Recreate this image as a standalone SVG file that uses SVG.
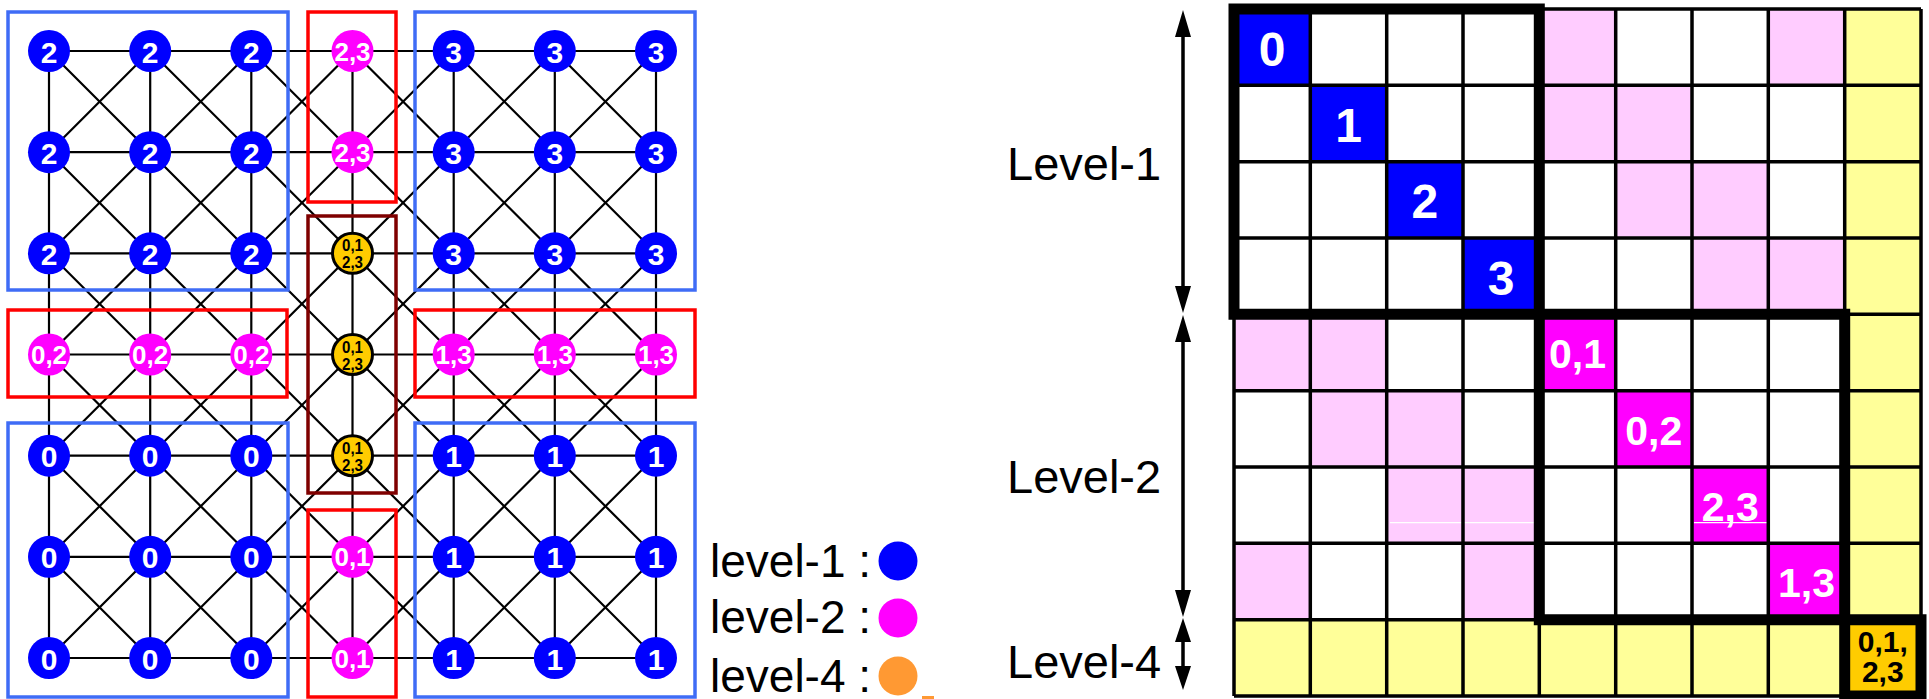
<svg xmlns="http://www.w3.org/2000/svg" width="1929" height="699" viewBox="0 0 1929 699">
  <style>
    .edge{fill:none;stroke:#000;stroke-width:2.2}
    .bbox{fill:none;stroke:#3F6CF6;stroke-width:3.5}
    .rbox{fill:none;stroke:#FF0000;stroke-width:3.5}
    .mbox{fill:none;stroke:#7F0000;stroke-width:3.5}
    .n1 circle{fill:#0000FF}
    .n2 circle{fill:#FF00FF}
    .n4 circle{fill:#FFCC00;stroke:#000;stroke-width:3}
    text{font-family:"Liberation Sans",Arial,Helvetica,sans-serif}
    .n1 text{font-weight:bold;font-size:30px;fill:#fff;text-anchor:middle}
    .n2 text{font-weight:bold;font-size:26px;fill:#fff;text-anchor:middle}
    .n4 text{font-weight:bold;font-size:17px;fill:#000;text-anchor:middle}
    .blue{fill:#0000FF}
    .pink{fill:#FFCCFF}
    .mag{fill:#FF00FF}
    .yel{fill:#FFFF99}
    .org{fill:#FFCC00}
    .thin{fill:none;stroke:#000;stroke-width:3.5}
    .thick{fill:none;stroke:#000;stroke-width:11;stroke-linejoin:miter;stroke-linecap:square}
    .cl{font-weight:bold;text-anchor:middle;fill:#fff}
    .big{font-size:47px;fill:#000}
    .leg{font-size:46px;fill:#000}
  </style>

  <rect x="0" y="0" width="1929" height="699" fill="#fff"/>

  <!-- mesh connections: rows, columns and both diagonals of every cell -->
  <g id="connectors" class="edge">
    <path d="M49,51H656M49,152.2H656M49,253.3H656M49,354.5H656M49,455.7H656M49,556.8H656M49,658H656"/>
    <path d="M49,51V658M150.2,51V658M251.3,51V658M352.5,51V658M453.7,51V658M554.8,51V658M656,51V658"/>
    <path d="M49,51L656,658M150.2,51L656,556.8M251.3,51L656,455.7M352.5,51L656,354.5M453.7,51L656,253.3M554.8,51L656,152.2M49,152.2L554.8,658M49,253.3L453.7,658M49,354.5L352.5,658M49,455.7L251.3,658M49,556.8L150.2,658"/>
    <path d="M49,152.2L150.2,51M49,253.3L251.3,51M49,354.5L352.5,51M49,455.7L453.7,51M49,556.8L554.8,51M49,658L656,51M150.2,658L656,152.2M251.3,658L656,253.3M352.5,658L656,354.5M453.7,658L656,455.7M554.8,658L656,556.8"/>
  </g>

  <!-- domain groupings -->
  <g id="groups">
    <rect class="bbox" x="8" y="12" width="280" height="278"/>
    <rect class="bbox" x="415" y="12" width="280" height="278"/>
    <rect class="bbox" x="8" y="423" width="280" height="274"/>
    <rect class="bbox" x="415" y="423" width="280" height="274"/>
    <rect class="rbox" x="308" y="12" width="88" height="190"/>
    <rect class="rbox" x="8" y="310" width="279" height="87"/>
    <rect class="rbox" x="415" y="310" width="280" height="87"/>
    <rect class="rbox" x="308" y="510" width="88" height="187"/>
    <rect class="mbox" x="308" y="216" width="88" height="277"/>
  </g>

  <!-- row 0 -->
  <g id="n00" class="n1"><circle cx="49" cy="51" r="21"/><text x="49" y="62.5">2</text></g>
  <g id="n01" class="n1"><circle cx="150.2" cy="51" r="21"/><text x="150.2" y="62.5">2</text></g>
  <g id="n02" class="n1"><circle cx="251.3" cy="51" r="21"/><text x="251.3" y="62.5">2</text></g>
  <g id="n03" class="n2"><circle cx="352.5" cy="51" r="21"/><text x="352.5" y="60.5">2,3</text></g>
  <g id="n04" class="n1"><circle cx="453.7" cy="51" r="21"/><text x="453.7" y="62.5">3</text></g>
  <g id="n05" class="n1"><circle cx="554.8" cy="51" r="21"/><text x="554.8" y="62.5">3</text></g>
  <g id="n06" class="n1"><circle cx="656" cy="51" r="21"/><text x="656" y="62.5">3</text></g>
  <!-- row 1 -->
  <g id="n10" class="n1"><circle cx="49" cy="152.2" r="21"/><text x="49" y="163.7">2</text></g>
  <g id="n11" class="n1"><circle cx="150.2" cy="152.2" r="21"/><text x="150.2" y="163.7">2</text></g>
  <g id="n12" class="n1"><circle cx="251.3" cy="152.2" r="21"/><text x="251.3" y="163.7">2</text></g>
  <g id="n13" class="n2"><circle cx="352.5" cy="152.2" r="21"/><text x="352.5" y="161.7">2,3</text></g>
  <g id="n14" class="n1"><circle cx="453.7" cy="152.2" r="21"/><text x="453.7" y="163.7">3</text></g>
  <g id="n15" class="n1"><circle cx="554.8" cy="152.2" r="21"/><text x="554.8" y="163.7">3</text></g>
  <g id="n16" class="n1"><circle cx="656" cy="152.2" r="21"/><text x="656" y="163.7">3</text></g>
  <!-- row 2 -->
  <g id="n20" class="n1"><circle cx="49" cy="253.3" r="21"/><text x="49" y="264.8">2</text></g>
  <g id="n21" class="n1"><circle cx="150.2" cy="253.3" r="21"/><text x="150.2" y="264.8">2</text></g>
  <g id="n22" class="n1"><circle cx="251.3" cy="253.3" r="21"/><text x="251.3" y="264.8">2</text></g>
  <g id="n23" class="n4"><circle cx="352.5" cy="253.3" r="20"/><text x="352.5" y="251.3" textLength="21" lengthAdjust="spacingAndGlyphs">0,1</text><text x="352.5" y="268.3" textLength="21" lengthAdjust="spacingAndGlyphs">2,3</text></g>
  <g id="n24" class="n1"><circle cx="453.7" cy="253.3" r="21"/><text x="453.7" y="264.8">3</text></g>
  <g id="n25" class="n1"><circle cx="554.8" cy="253.3" r="21"/><text x="554.8" y="264.8">3</text></g>
  <g id="n26" class="n1"><circle cx="656" cy="253.3" r="21"/><text x="656" y="264.8">3</text></g>
  <!-- row 3 -->
  <g id="n30" class="n2"><circle cx="49" cy="354.5" r="21"/><text x="49" y="364">0,2</text></g>
  <g id="n31" class="n2"><circle cx="150.2" cy="354.5" r="21"/><text x="150.2" y="364">0,2</text></g>
  <g id="n32" class="n2"><circle cx="251.3" cy="354.5" r="21"/><text x="251.3" y="364">0,2</text></g>
  <g id="n33" class="n4"><circle cx="352.5" cy="354.5" r="20"/><text x="352.5" y="352.5" textLength="21" lengthAdjust="spacingAndGlyphs">0,1</text><text x="352.5" y="369.5" textLength="21" lengthAdjust="spacingAndGlyphs">2,3</text></g>
  <g id="n34" class="n2"><circle cx="453.7" cy="354.5" r="21"/><text x="453.7" y="364">1,3</text></g>
  <g id="n35" class="n2"><circle cx="554.8" cy="354.5" r="21"/><text x="554.8" y="364">1,3</text></g>
  <g id="n36" class="n2"><circle cx="656" cy="354.5" r="21"/><text x="656" y="364">1,3</text></g>
  <!-- row 4 -->
  <g id="n40" class="n1"><circle cx="49" cy="455.7" r="21"/><text x="49" y="467.2">0</text></g>
  <g id="n41" class="n1"><circle cx="150.2" cy="455.7" r="21"/><text x="150.2" y="467.2">0</text></g>
  <g id="n42" class="n1"><circle cx="251.3" cy="455.7" r="21"/><text x="251.3" y="467.2">0</text></g>
  <g id="n43" class="n4"><circle cx="352.5" cy="455.7" r="20"/><text x="352.5" y="453.7" textLength="21" lengthAdjust="spacingAndGlyphs">0,1</text><text x="352.5" y="470.7" textLength="21" lengthAdjust="spacingAndGlyphs">2,3</text></g>
  <g id="n44" class="n1"><circle cx="453.7" cy="455.7" r="21"/><text x="453.7" y="467.2">1</text></g>
  <g id="n45" class="n1"><circle cx="554.8" cy="455.7" r="21"/><text x="554.8" y="467.2">1</text></g>
  <g id="n46" class="n1"><circle cx="656" cy="455.7" r="21"/><text x="656" y="467.2">1</text></g>
  <!-- row 5 -->
  <g id="n50" class="n1"><circle cx="49" cy="556.8" r="21"/><text x="49" y="568.3">0</text></g>
  <g id="n51" class="n1"><circle cx="150.2" cy="556.8" r="21"/><text x="150.2" y="568.3">0</text></g>
  <g id="n52" class="n1"><circle cx="251.3" cy="556.8" r="21"/><text x="251.3" y="568.3">0</text></g>
  <g id="n53" class="n2"><circle cx="352.5" cy="556.8" r="21"/><text x="352.5" y="566.3">0,1</text></g>
  <g id="n54" class="n1"><circle cx="453.7" cy="556.8" r="21"/><text x="453.7" y="568.3">1</text></g>
  <g id="n55" class="n1"><circle cx="554.8" cy="556.8" r="21"/><text x="554.8" y="568.3">1</text></g>
  <g id="n56" class="n1"><circle cx="656" cy="556.8" r="21"/><text x="656" y="568.3">1</text></g>
  <!-- row 6 -->
  <g id="n60" class="n1"><circle cx="49" cy="658" r="21"/><text x="49" y="669.5">0</text></g>
  <g id="n61" class="n1"><circle cx="150.2" cy="658" r="21"/><text x="150.2" y="669.5">0</text></g>
  <g id="n62" class="n1"><circle cx="251.3" cy="658" r="21"/><text x="251.3" y="669.5">0</text></g>
  <g id="n63" class="n2"><circle cx="352.5" cy="658" r="21"/><text x="352.5" y="667.5">0,1</text></g>
  <g id="n64" class="n1"><circle cx="453.7" cy="658" r="21"/><text x="453.7" y="669.5">1</text></g>
  <g id="n65" class="n1"><circle cx="554.8" cy="658" r="21"/><text x="554.8" y="669.5">1</text></g>
  <g id="n66" class="n1"><circle cx="656" cy="658" r="21"/><text x="656" y="669.5">1</text></g>

  <!-- legend -->
  <g id="legend">
    <text class="leg" x="710" y="577">level-1 :</text>
    <text class="leg" x="710" y="633">level-2 :</text>
    <text class="leg" x="710" y="692">level-4 :</text>
    <circle cx="898" cy="561" r="19.5" fill="#0000FF"/>
    <circle cx="898" cy="618" r="19.5" fill="#FF00FF"/>
    <circle cx="898" cy="676" r="19.5" fill="#FF9933"/>
    <rect x="922" y="696" width="12" height="3" fill="#FF9933"/>
  </g>

  <!-- level extents beside the matrix -->
  <g id="levels">
    <text class="big" x="1007" y="180">Level-1</text>
    <text class="big" x="1007" y="493">Level-2</text>
    <text class="big" x="1007" y="678">Level-4</text>
    <path d="M1183,30V293M1183,335V597M1183,638V670" stroke="#000" stroke-width="3.5" fill="none"/>
    <path d="M1183,10L1175,37H1191ZM1183,313L1175,286H1191ZM1183,315L1175,342H1191ZM1183,617L1175,590H1191ZM1183,618L1175,642H1191ZM1183,690L1175,666H1191Z" fill="#000"/>
  </g>

  <!-- block matrix -->
  <g id="matrix">
    <rect x="1234" y="9" width="687" height="687" fill="#fff"/>
    <rect class="blue" x="1234" y="9" width="76.4" height="76.4"/>
    <rect class="blue" x="1310.3" y="85.3" width="76.4" height="76.4"/>
    <rect class="blue" x="1386.7" y="161.7" width="76.4" height="76.4"/>
    <rect class="blue" x="1463" y="238" width="76.4" height="76.4"/>
    <rect class="pink" x="1539.3" y="9" width="76.4" height="76.4"/>
    <rect class="pink" x="1768.3" y="9" width="76.4" height="76.4"/>
    <rect class="pink" x="1539.3" y="85.3" width="76.4" height="76.4"/>
    <rect class="pink" x="1615.7" y="85.3" width="76.4" height="76.4"/>
    <rect class="pink" x="1615.7" y="161.7" width="76.4" height="76.4"/>
    <rect class="pink" x="1692" y="161.7" width="76.4" height="76.4"/>
    <rect class="pink" x="1692" y="238" width="76.4" height="76.4"/>
    <rect class="pink" x="1768.3" y="238" width="76.4" height="76.4"/>
    <rect class="pink" x="1234" y="314.3" width="76.4" height="76.4"/>
    <rect class="pink" x="1310.3" y="314.3" width="76.4" height="76.4"/>
    <rect class="pink" x="1310.3" y="390.7" width="76.4" height="76.4"/>
    <rect class="pink" x="1386.7" y="390.7" width="76.4" height="76.4"/>
    <rect class="pink" x="1386.7" y="467" width="76.4" height="76.4"/>
    <rect class="pink" x="1463" y="467" width="76.4" height="76.4"/>
    <rect class="pink" x="1234" y="543.3" width="76.4" height="76.4"/>
    <rect class="pink" x="1463" y="543.3" width="76.4" height="76.4"/>
    <rect class="mag" x="1539.3" y="314.3" width="76.4" height="76.4"/>
    <rect class="mag" x="1615.7" y="390.7" width="76.4" height="76.4"/>
    <rect class="mag" x="1692" y="467" width="76.4" height="76.4"/>
    <rect class="mag" x="1768.3" y="543.3" width="76.4" height="76.4"/>
    <rect class="yel" x="1844.7" y="9" width="76.3" height="610.7"/>
    <rect class="yel" x="1234" y="619.7" width="610.7" height="76.3"/>
    <rect class="org" x="1844.7" y="619.7" width="76.3" height="76.3"/>
    <path d="M1390,522.7H1539M1694,522.7H1767" stroke="#fff" stroke-width="1.2"/>
    <path class="thin" d="M1234,9H1921M1234,85.3H1921M1234,161.7H1921M1234,238H1921M1234,314.3H1921M1234,390.7H1921M1234,467H1921M1234,543.3H1921M1234,619.7H1921M1234,696H1921"/>
    <path class="thin" d="M1234,9V696M1310.3,9V696M1386.7,9V696M1463,9V696M1539.3,9V696M1615.7,9V696M1692,9V696M1768.3,9V696M1844.7,9V696M1921,9V696"/>
    <path class="thick" d="M1234,9H1539.3V314.3H1234ZM1539.3,314.3H1844.7V619.7H1539.3ZM1844.7,619.7H1921V696H1844.7Z"/>
    <text class="cl" x="1272.2" y="66" font-size="48">0</text>
    <text class="cl" x="1348.5" y="142" font-size="48">1</text>
    <text class="cl" x="1424.8" y="218" font-size="48">2</text>
    <text class="cl" x="1501.2" y="294.5" font-size="48">3</text>
    <text class="cl" x="1577.5" y="368" font-size="41">0,1</text>
    <text class="cl" x="1653.8" y="445" font-size="41">0,2</text>
    <text class="cl" x="1730.2" y="521" font-size="41">2,3</text>
    <text class="cl" x="1806.5" y="597" font-size="41">1,3</text>
    <text x="1882.8" y="652" font-size="30" font-weight="bold" text-anchor="middle" fill="#000">0,1,</text>
    <text x="1882.8" y="682" font-size="30" font-weight="bold" text-anchor="middle" fill="#000">2,3</text>
  </g>
</svg>
